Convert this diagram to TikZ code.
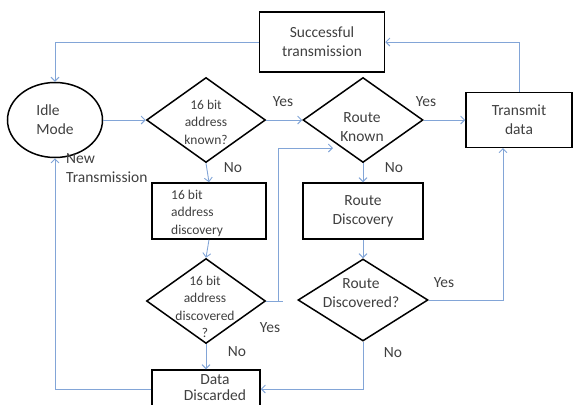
\documentclass[tikz,border=0pt]{standalone}
\usepackage{fontspec}
\setmainfont{Carlito}
\usepackage{tikz}
\usetikzlibrary{shapes.geometric, arrows.meta}

\definecolor{linkblue}{RGB}{130,165,215}
\definecolor{txtgray}{RGB}{64,64,64}

\tikzset{
    txt/.style={text=txtgray, align=center, inner sep=0pt,
        font=\fontsize{15.5}{19}\selectfont},
    smalltxt/.style={text=txtgray, align=center, inner sep=0pt,
        font=\fontsize{13.5}{17.5}\selectfont},
    proc/.style={txt, draw=black, line width=1.5pt, rectangle},
    term/.style={txt, draw=black, line width=1.5pt, ellipse, align=left},
    decision/.style={draw=black, line width=1.5pt, diamond, inner sep=0pt,
        minimum width=119, minimum height=85},
    link/.style={draw=linkblue, line width=0.9pt, -{Straight Barb[length=4pt,width=8pt]}},
    plain/.style={draw=linkblue, line width=0.9pt}
}

\begin{document}
\begin{tikzpicture}[x=1pt, y=-1pt]
    \useasboundingbox (0,0) rectangle (574,405);
    \clip (0,0) rectangle (574,405);

    \node[proc, minimum width=125, minimum height=60] (succ) at (322,42) {Successful\\transmission};
    \node[term, minimum width=95, minimum height=75] (idle) at (55,120) {Idle\\Mode};
    \node[decision] (known) at (206,120) {};
    \node[smalltxt] (knowntxt) at (206,122) {16 bit\\address\\known?};
    \node[decision, minimum width=120] (rknown) at (363,120) {};
    \node[txt] (rknowntxt) at (362,127) {Route\\Known};
    \node[proc, minimum width=106, minimum height=55] (tx) at (519,120) {Transmit\\data};

    \node[proc, minimum width=114, minimum height=56] (abd) at (209,211) {};
    \node[smalltxt, align=left, anchor=west] (abdtxt) at (171,213) {16 bit\\address\\discovery};
    \node[proc, minimum width=120, minimum height=56] (rdisc) at (363,211) {Route\\Discovery};

    \node[decision] (disc) at (206,301) {};
    \node[smalltxt] (disctxt) at (205,307) {16 bit\\address\\discovered\\?};
    \node[decision, minimum width=130, minimum height=82] (rdd) at (363,300) {};
    \node[txt] (rddtxt) at (361,293) {Route\\Discovered?};

    \node[proc, minimum width=108, minimum height=38] (dd) at (206,389) {};
    \node[txt, font=\fontsize{15.5}{16}\selectfont] (ddtxt) at (215,388) {Data\\Discarded};

    \node[txt, align=left, anchor=north west] (newtx) at (66,153) {New\\Transmission};

    \coordinate (rkin) at (333,148);
    \coordinate (txin) at (503,148);

    \draw[link] (succ.west) -| (idle.north);
    \draw[link] (idle.east) -- (known.west);
    \draw[link] (known.east) -- (rknown.west);
    \draw[link] (rknown.east) -- (tx.west);
    \draw[link] (tx.north) |- (succ.east);
    \draw[link] (known.south) -- (abd.north);
    \draw[link] (abd.south) -- (disc.north);
    \draw[link] (disc.east) -- ++(12,0) |- (rkin);
    \draw[plain] (disc.east) -- ++(17,0);
    \draw[link] (disc.south) -- (dd.north);
    \draw[link] (dd.west) -| (idle.south);
    \draw[link] (rknown.south) -- (rdisc.north);
    \draw[link] (rdisc.south) -- (rdd.north);
    \draw[link] (rdd.east) -| (txin);
    \draw[link] (rdd.south) |- (dd.east);

    \node[txt] (yes1) at (283,102) {Yes};
    \node[txt] (yes2) at (426,102) {Yes};
    \node[txt] (no1) at (233,168) {No};
    \node[txt] (no2) at (394,168) {No};
    \node[txt] (yes3) at (270,328) {Yes};
    \node[txt] (no3) at (237,352) {No};
    \node[txt] (yes4) at (444,283) {Yes};
    \node[txt] (no4) at (393,353) {No};
\end{tikzpicture}
\end{document}
